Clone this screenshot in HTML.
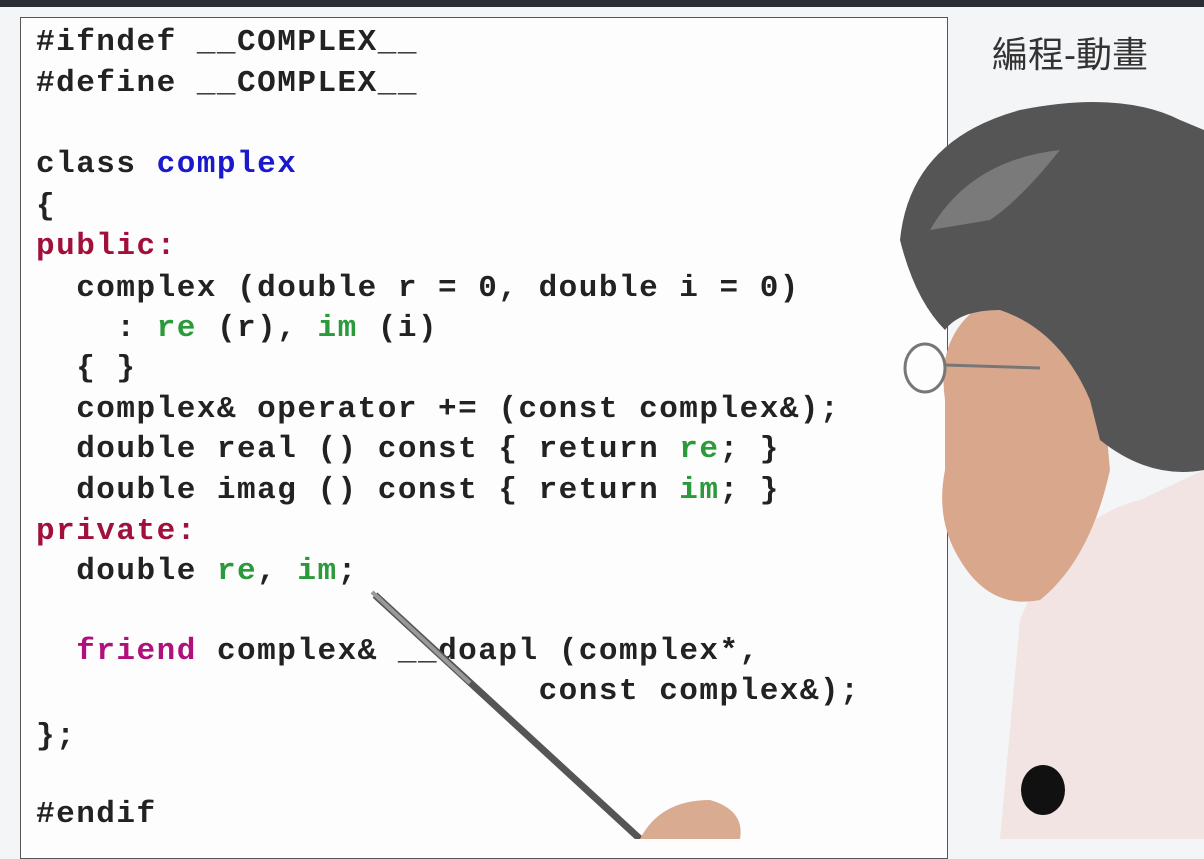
<!DOCTYPE html>
<html><head><meta charset="utf-8">
<style>
html,body{margin:0;padding:0;}
body{width:1204px;height:839px;overflow:hidden;background:#f4f5f7;position:relative;}
.top{position:absolute;left:0;top:0;width:1204px;height:7px;background:#2a2d33;}
.box{position:absolute;left:20px;top:17px;width:926px;height:840px;border:1.5px solid #555;background:#fdfdfd;}
.code{position:absolute;left:36px;top:-1px;margin:0;font-family:"Liberation Mono",monospace;font-weight:bold;font-size:31px;letter-spacing:1.5px;color:#222;}
.l{position:absolute;white-space:pre;left:0;}
.b{color:#1a1acc}.r{color:#a0103a}.g{color:#2a9a3a}.m{color:#b0107a}
.title{position:absolute;left:992px;top:26px;font-family:"Liberation Sans","Noto Sans CJK TC",sans-serif;font-size:36px;color:#333;}
svg{position:absolute;left:0;top:0;}
</style></head><body>
<div class="top"></div>
<div class="box"></div>
<div class="code">
<div class="l" style="top:26px">#ifndef __COMPLEX__</div>
<div class="l" style="top:67px">#define __COMPLEX__</div>
<div class="l" style="top:148px">class <span class="b">complex</span></div>
<div class="l" style="top:190px">{</div>
<div class="l r" style="top:230px">public:</div>
<div class="l" style="top:272px">  complex (double r = 0, double i = 0)</div>
<div class="l" style="top:312px">    : <span class="g">re</span> (r), <span class="g">im</span> (i)</div>
<div class="l" style="top:352px">  { }</div>
<div class="l" style="top:393px">  complex&amp; operator += (const complex&amp;);</div>
<div class="l" style="top:433px">  double real () const { return <span class="g">re</span>; }</div>
<div class="l" style="top:474px">  double imag () const { return <span class="g">im</span>; }</div>
<div class="l r" style="top:515px">private:</div>
<div class="l" style="top:555px">  double <span class="g">re</span>, <span class="g">im</span>;</div>
<div class="l" style="top:635px">  <span class="m">friend</span> complex&amp; __doapl (complex*,</div>
<div class="l" style="top:675px">                         const complex&amp;);</div>
<div class="l" style="top:720px">};</div>
<div class="l" style="top:798px">#endif</div>
</div>
<div class="title">編程-動畫</div>
<svg width="1204" height="839">
<line x1="375" y1="595" x2="640" y2="839" stroke="#555" stroke-width="7"/>
<line x1="372" y1="592" x2="470" y2="683" stroke="#999" stroke-width="4"/>
<path d="M640 839 Q660 800 710 800 Q745 810 740 839 Z" fill="#d9ab90"/>
<path d="M1000 839 L1020 620 Q1060 520 1140 500 L1204 470 L1204 839 Z" fill="#f1e4e2"/>
<path d="M945 400 Q935 330 990 300 Q1060 290 1100 360 L1110 470 Q1090 560 1040 600 Q990 610 960 560 Q935 520 945 470 Z" fill="#d9a88c"/>
<path d="M900 240 Q910 140 1020 110 Q1120 90 1180 120 L1204 130 L1204 470 Q1150 480 1100 440 L1090 400 Q1060 330 1000 310 Q960 310 945 330 Q915 300 900 240 Z" fill="#555"/>
<path d="M930 230 Q970 160 1060 150 Q1020 200 990 220 Z" fill="#8a8a8a" opacity="0.7"/>
<ellipse cx="925" cy="368" rx="20" ry="24" fill="none" stroke="#777" stroke-width="3"/>
<line x1="945" y1="365" x2="1040" y2="368" stroke="#777" stroke-width="3"/>
<ellipse cx="1043" cy="790" rx="22" ry="25" fill="#111"/>
</svg>
</body></html>
